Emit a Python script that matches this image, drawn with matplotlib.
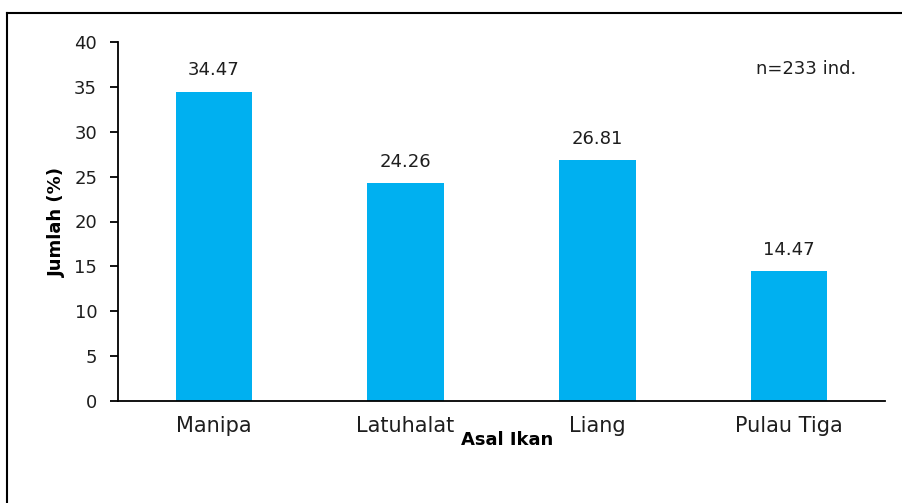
import matplotlib
matplotlib.use("Agg")
import matplotlib.pyplot as plt
from matplotlib.lines import Line2D

categories = ["Manipa", "Latuhalat", "Liang", "Pulau Tiga"]
values = [34.47, 24.26, 26.81, 14.47]
yticks = [0, 5, 10, 15, 20, 25, 30, 35, 40]

plt.rcParams['font.family'] = ['DejaVu Sans']

W, H = 902, 503
fig = plt.figure(figsize=(W/100, H/100), dpi=100)
ax = fig.add_axes([118/W, 1-401/H, (885-118)/W, (401-42)/H])

x = list(range(len(categories)))
ax.bar(x, values, width=0.40, color="#00B0F0", zorder=2)
ax.set_xlim(-0.5, len(categories)-0.5)
ax.set_ylim(0, 40)
ax.set_yticks(yticks)
ax.set_xticks(x)
ax.set_xticklabels(categories, fontsize=15, color="#1e1e1e")
ax.tick_params(axis='y', direction='out', length=6, width=1.3, labelsize=13, pad=9, colors="black", labelcolor="#1e1e1e")
ax.tick_params(axis='x', length=0, pad=11)
for s in ['top', 'right']:
    ax.spines[s].set_visible(False)
for s in ['left', 'bottom']:
    ax.spines[s].set_linewidth(1.3)

for xi, v in zip(x, values):
    ax.annotate(f"{v:.2f}", (xi, v), xytext=(0, 9), textcoords='offset points',
                ha='center', va='bottom', fontsize=13, color="#1e1e1e")

fig.text(57/W, 1-222/H, "Jumlah (%)", rotation=90, ha='center', va='center', fontsize=13, fontweight='bold')
fig.text(507/W, 1-445/H, "Asal Ikan", ha='center', va='baseline', fontsize=13, fontweight='bold')
fig.text(806/W, 1-74/H, "n=233 ind.", ha='center', va='baseline', fontsize=13, color="#1e1e1e")

# frame lines (top and left only visible)
fig.add_artist(Line2D([7.5/W, 7.5/W], [0, 1-12.5/H], transform=fig.transFigure, color='black', lw=1.5))
fig.add_artist(Line2D([7.5/W, 1], [1-12.5/H, 1-12.5/H], transform=fig.transFigure, color='black', lw=1.5))

fig.savefig("out.png", dpi=100)
